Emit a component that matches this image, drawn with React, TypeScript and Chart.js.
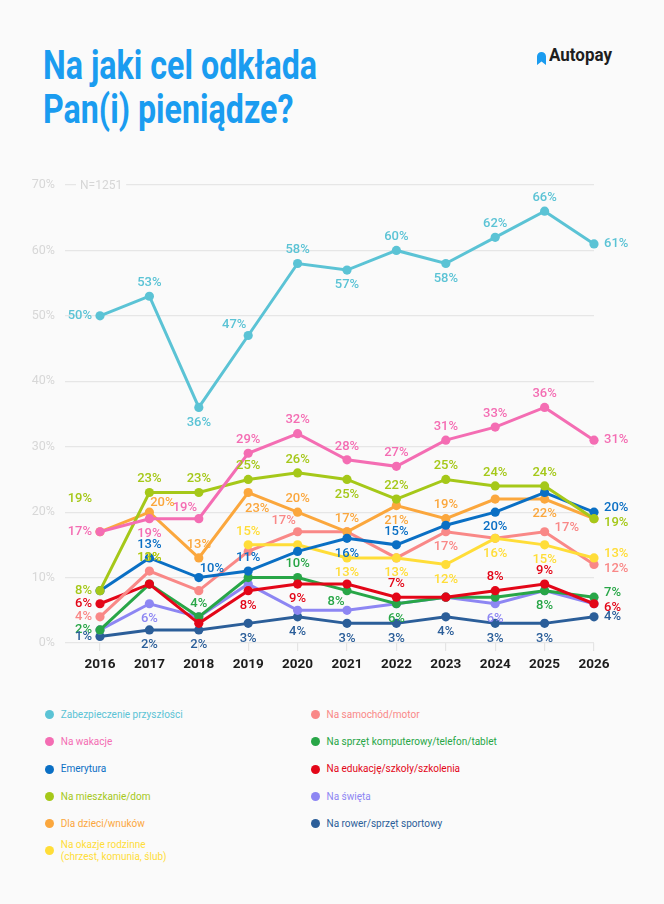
import React, { useEffect, useRef } from "react";
import { Chart, registerables } from "chart.js";

Chart.register(...registerables);

// ---------- data ----------
const YEARS = ["2016", "2017", "2018", "2019", "2020", "2021", "2022", "2023", "2024", "2025", "2026"];

const ZABEZPIECZENIE = [50, 53, 36, 47, 58, 57, 60, 58, 62, 66, 61];
const WAKACJE = [17, 19, 19, 29, 32, 28, 27, 31, 33, 36, 31];
const EMERYTURA = [8, 13, 10, 11, 14, 16, 15, 18, 20, 23, 20];
const MIESZKANIE = [8, 23, 23, 25, 26, 25, 22, 25, 24, 24, 19];
const DZIECI = [17, 20, 13, 23, 20, 17, 21, 19, 22, 22, 19];
const OKAZJE = [null, null, null, 15, 15, 13, 13, 12, 16, 15, 13];
const SAMOCHOD = [4, 11, 8, 14, 17, 17, 13, 17, 16, 17, 12];
const SPRZET = [2, 9, 4, 10, 10, 8, 6, 7, 7, 8, 7];
const EDUKACJA = [6, 9, 3, 8, 9, 9, 7, 7, 8, 9, 6];
const SWIETA = [2, 6, 4, 9, 5, 5, 6, 7, 6, 8, 6];
const ROWER = [1, 2, 2, 3, 4, 3, 3, 4, 3, 3, 4];

const Y_TICKS = [0, 10, 20, 30, 40, 50, 60, 70];
const SAMPLE_NOTE = "N=1251";

const TITLE_LINES = ["Na jaki cel odkłada", "Pan(i) pieniądze?"];
const BRAND = "Autopay";

// stray labels present in the source picture: [series index, year index, anchor value, text, placement]
const EXTRA_LABELS: [number, number, number, string, string][] = [
  [3, 0, 22, "19%", "l"],
  [5, 1, 11, "11%", "a"],
  [3, 1, 11, "13%", "a"],
];

// ---------- series styling ----------
type Series = {
  name: string;
  color: string;
  data: (number | null)[];
  order: number;
  pos: string[];
};

const SERIES: Series[] = [
  { name: "Zabezpieczenie przyszłości", color: "#5BC3D5", data: ZABEZPIECZENIE, order: 0,
    pos: ["l", "a", "b", "al", "a", "b", "a", "b", "a", "a", "r"] },
  { name: "Na wakacje", color: "#F46DB3", data: WAKACJE, order: 1,
    pos: ["l", "b", "al", "a", "a", "a", "a", "a", "a", "a", "r"] },
  { name: "Emerytura", color: "#0A6FC4", data: EMERYTURA, order: 3,
    pos: ["", "a", "ar", "a", "", "b", "a", "", "b", "", "ru"] },
  { name: "Na mieszkanie/dom", color: "#A5C819", data: MIESZKANIE, order: 2,
    pos: ["l", "a", "a", "a", "a", "b", "a", "a", "a", "a", "rd"] },
  { name: "Dla dzieci/wnuków", color: "#FBA73D", data: DZIECI, order: 4,
    pos: ["", "ar", "a", "br", "a", "a", "b", "a", "", "b", ""] },
  { name: "Na okazje rodzinne\n(chrzest, komunia, ślub)", color: "#FFDD38", data: OKAZJE, order: 5,
    pos: ["", "", "", "a", "", "b", "b", "b", "b", "b", "ru"] },
  { name: "Na samochód/motor", color: "#F98887", data: SAMOCHOD, order: 6,
    pos: ["l", "", "", "", "al", "", "", "b", "", "ru", "rd"] },
  { name: "Na sprzęt komputerowy/telefon/tablet", color: "#28A647", data: SPRZET, order: 8,
    pos: ["l", "", "a", "", "a", "bl", "b", "", "", "b", "ru"] },
  { name: "Na edukację/szkoły/szkolenia", color: "#E30618", data: EDUKACJA, order: 7,
    pos: ["l", "", "", "b", "b", "", "a", "", "a", "a", "rd"] },
  { name: "Na święta", color: "#8D86F3", data: SWIETA, order: 9,
    pos: ["", "b", "", "", "", "", "", "", "b", "", ""] },
  { name: "Na rower/sprzęt sportowy", color: "#2B5E99", data: ROWER, order: 10,
    pos: ["l", "b", "b", "b", "b", "b", "b", "b", "b", "b", "r"] },
];

const LEGEND_COL1 = [0, 1, 2, 3, 4, 5];
const LEGEND_COL2 = [6, 7, 8, 9, 10];

const LABEL_FONT = "500 13px Roboto, 'Noto Sans', sans-serif";
const TITLE_FONT = "700 40px Roboto";
const BRAND_FONT = "700 18px Roboto";

function measure(text: string, font: string): number {
  const c = document.createElement("canvas").getContext("2d");
  if (!c) return 1;
  c.font = font;
  return c.measureText(text).width;
}

function drawLabel(ctx: CanvasRenderingContext2D, x: number, y: number, pos: string, text: string, color: string) {
  let dx = 0, dy = 0;
  let align: CanvasTextAlign = "center";
  switch (pos) {
    case "a": dy = -13.5; break;
    case "b": dy = 15; break;
    case "l": dx = -8; align = "right"; break;
    case "r": dx = 10; align = "left"; break;
    case "ru": dx = 10; dy = -4; align = "left"; break;
    case "rd": dx = 10; dy = 4; align = "left"; break;
    case "al": dx = -14; dy = -11; break;
    case "ar": dx = 13; dy = -9; break;
    case "bl": dx = -11; dy = 11; break;
    case "br": dx = 9; dy = 16; break;
  }
  ctx.textAlign = align;
  ctx.fillStyle = color;
  ctx.fillText(text, x + dx, y + dy);
}

const pointLabels = {
  id: "pointLabels",
  afterDatasetsDraw(chart: any) {
    const ctx: CanvasRenderingContext2D = chart.ctx;
    ctx.save();
    ctx.font = LABEL_FONT;
    ctx.textBaseline = "middle";
    chart.data.datasets.forEach((ds: any, di: number) => {
      const meta = chart.getDatasetMeta(di);
      meta.data.forEach((pt: any, i: number) => {
        const v = ds.data[i];
        const p = ds.labelPos[i];
        if (v == null || !p) return;
        drawLabel(ctx, pt.x, pt.y, p, v + "%", ds.borderColor);
      });
    });
    EXTRA_LABELS.forEach(([si, xi, val, text, p]) => {
      const x = chart.scales.x.getPixelForValue(xi);
      const y = chart.scales.y.getPixelForValue(val);
      drawLabel(ctx, x, y, p, text, SERIES[si].color);
    });
    ctx.restore();
  },
};

const sampleNote = {
  id: "sampleNote",
  beforeDatasetsDraw(chart: any) {
    const ctx: CanvasRenderingContext2D = chart.ctx;
    const y = chart.scales.y.getPixelForValue(Y_TICKS[Y_TICKS.length - 1]);
    const left = chart.chartArea.left - 20;
    ctx.save();
    ctx.font = "400 12px Roboto, sans-serif";
    const w = ctx.measureText(SAMPLE_NOTE).width;
    ctx.fillStyle = "#fafafa";
    ctx.fillRect(left - 4, y - 4, w + 8, 8);
    ctx.fillStyle = "#d6d6d6";
    ctx.textBaseline = "middle";
    ctx.textAlign = "left";
    ctx.fillText(SAMPLE_NOTE, left, y + 0.5);
    ctx.restore();
  },
};

function LineChart() {
  const ref = useRef<HTMLCanvasElement | null>(null);
  useEffect(() => {
    if (!ref.current) return;
    const chart = new Chart(ref.current, {
      type: "line",
      data: {
        labels: YEARS,
        datasets: SERIES.map((s) => ({
          label: s.name,
          data: s.data,
          borderColor: s.color,
          backgroundColor: s.color,
          pointBackgroundColor: s.color,
          pointBorderWidth: 0,
          pointRadius: 4.6,
          borderWidth: 3,
          tension: 0,
          order: s.order,
          clip: false,
          labelPos: s.pos,
        })) as any,
      },
      options: {
        animation: false,
        responsive: false,
        maintainAspectRatio: false,
        devicePixelRatio: 1,
        layout: { padding: { top: 25, right: 70, bottom: 0, left: 0 } },
        plugins: {
          legend: { display: false },
          tooltip: { enabled: false },
        },
        scales: {
          x: {
            offset: false,
            grid: { drawOnChartArea: false, drawTicks: true, tickLength: 8, color: "#e4e4e4", lineWidth: 1.2 },
            border: { display: false },
            ticks: {
              color: "#1c1c1c",
              font: { size: 13.5, weight: "bold", family: "Roboto, sans-serif" },
              padding: 6,
              maxRotation: 0,
              autoSkip: false,
            },
            afterFit: (s: any) => { s.height = 40; },
          },
          y: {
            min: 0,
            max: 70,
            afterBuildTicks: (s: any) => { s.ticks = Y_TICKS.map((v) => ({ value: v })); },
            grid: { color: "#e6e6e6", lineWidth: 1.2, tickLength: 35, drawTicks: true },
            border: { display: false },
            ticks: {
              color: "#d7d7d7",
              font: { size: 12.5, family: "Roboto, sans-serif" },
              padding: 10,
              callback: (v: any) => v + "%",
            },
            afterFit: (s: any) => { s.width = 100; },
          },
        },
      },
      plugins: [sampleNote, pointLabels],
    });
    return () => chart.destroy();
  }, []);
  return (
    <canvas
      ref={ref}
      width={664}
      height={523}
      style={{ position: "absolute", left: 0, top: 160, width: 664, height: 523 }}
    />
  );
}

function LegendItem({ s, left, cy }: { s: Series; left: number; cy: number }) {
  const lines = s.name.split("\n");
  const h = lines.length > 1 ? 26 : 16;
  return (
    <div
      style={{
        position: "absolute",
        left,
        top: cy - h / 2,
        height: h,
        display: "flex",
        alignItems: "center",
      }}
    >
      <div style={{ width: 9, height: 9, borderRadius: "50%", background: s.color, marginRight: 7, flex: "none" }} />
      <div style={{ color: s.color, fontFamily: "Roboto, sans-serif", fontSize: 10, lineHeight: "11.5px", whiteSpace: "nowrap" }}>
        {lines.map((l, i) => (
          <div key={i}>{l}</div>
        ))}
      </div>
    </div>
  );
}

export default function App() {
  const rowsY = [714.7, 741.9, 769.2, 796.4, 823.6];
  const titleScale = 274 / measure(TITLE_LINES[0], TITLE_FONT);
  const brandScale = 63 / measure(BRAND, BRAND_FONT);
  return (
    <div
      style={{
        position: "absolute",
        left: 0,
        top: 0,
        width: 664,
        height: 904,
        background: "#fafafa",
        overflow: "hidden",
      }}
    >
      <div
        style={{
          position: "absolute",
          left: 43,
          top: 44,
          font: TITLE_FONT,
          lineHeight: "44px",
          color: "#1A9CF0",
          transform: `scaleX(${titleScale})`,
          transformOrigin: "left top",
          whiteSpace: "nowrap",
        }}
      >
        {TITLE_LINES.map((t, i) => (
          <div key={i}>{t}</div>
        ))}
      </div>
      <div style={{ position: "absolute", left: 536.5, top: 50.5, width: 9, height: 13 }}>
        <svg width="9" height="13" viewBox="0 0 9 13">
          <path d="M0 13 V4.5 A4.5 4.5 0 0 1 9 4.5 V13 L4.5 9.4 Z" fill="#1A9CF0" />
        </svg>
      </div>
      <div
        style={{
          position: "absolute",
          left: 549,
          top: 44,
          font: BRAND_FONT,
          lineHeight: "22px",
          color: "#1e1e1e",
          transform: `scaleX(${brandScale})`,
          transformOrigin: "left top",
          whiteSpace: "nowrap",
        }}
      >
        {BRAND}
      </div>
      <LineChart />
      {LEGEND_COL1.map((si, i) => (
        <LegendItem key={si} s={SERIES[si]} left={44.8} cy={i < 5 ? rowsY[i] : 850.5} />
      ))}
      {LEGEND_COL2.map((si, i) => (
        <LegendItem key={si} s={SERIES[si]} left={310.5} cy={rowsY[i]} />
      ))}
    </div>
  );
}
